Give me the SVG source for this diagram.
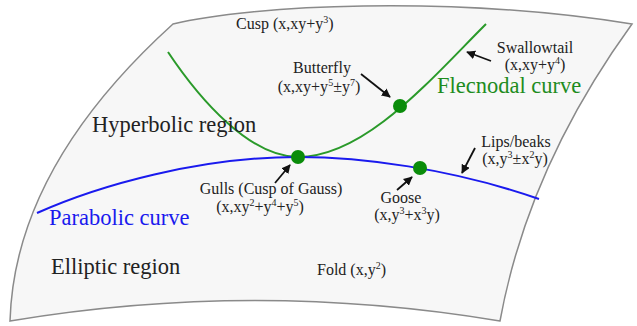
<svg xmlns="http://www.w3.org/2000/svg" width="637" height="326" viewBox="0 0 637 326" font-family="'Liberation Serif', 'DejaVu Serif', serif">
<defs>
<marker id="ah" viewBox="0 0 10 10" refX="9" refY="5" markerWidth="5" markerHeight="5" orient="auto" markerUnits="strokeWidth">
<path d="M0,0 L10,5 L0,10 z" fill="#111"/>
</marker>
<style>
text{fill:#222}
.s{font-size:16px}
.b{font-size:22.5px}
.m{text-anchor:middle}
.sup{font-size:10px}
.arr{stroke:#111;stroke-width:1.8;fill:none;marker-end:url(#ah)}
.dot{fill:#0a8c0a}
</style>
</defs>
<rect width="637" height="326" fill="#fff"/>
<g id="surface">
<path d="M173,24 C250,5 450,-5 632,24 Q528,167.5 500,321 Q255,280 10,321 Q14.5,167.5 173,24 Z" fill="#f7f7f7" stroke="#8a8a8a" stroke-width="1.5"/>
</g>
<g id="curves">
<path id="flecnodal" d="M168,52 C200,100 250,157 298,157 C365,157 430,80 486,24" fill="none" stroke="#2a9a2a" stroke-width="2"/>
<path id="parabolic" d="M37,213 C100,185 200,157 298,157 C360,157 450,168 539,199" fill="none" stroke="#1a1aee" stroke-width="2"/>
</g>
<g id="connectors">
<line class="arr" x1="361" y1="74" x2="390" y2="97"/>
<line class="arr" x1="491" y1="61" x2="467" y2="52"/>
<line class="arr" x1="475" y1="148" x2="462" y2="173"/>
<line class="arr" x1="275" y1="183" x2="290" y2="165"/>
<line class="arr" x1="397" y1="190" x2="412" y2="177"/>
</g>
<g id="butterfly">
<circle class="dot" cx="400" cy="106" r="7"/>
<text class="s m" x="322" y="73">Butterfly</text>
<text class="s m" x="319" y="92">(x,xy+y<tspan class="sup" dy="-6">5</tspan><tspan dy="6">±y</tspan><tspan class="sup" dy="-6">7</tspan><tspan dy="6">)</tspan></text>
</g>
<g id="gulls">
<circle class="dot" cx="298" cy="157" r="7"/>
<text class="s m" x="271" y="194">Gulls (Cusp of Gauss)</text>
<text class="s m" x="260" y="212">(x,xy<tspan class="sup" dy="-6">2</tspan><tspan dy="6">+y</tspan><tspan class="sup" dy="-6">4</tspan><tspan dy="6">+y</tspan><tspan class="sup" dy="-6">5</tspan><tspan dy="6">)</tspan></text>
</g>
<g id="goose">
<circle class="dot" cx="420" cy="168" r="7"/>
<text class="s m" x="401" y="203">Goose</text>
<text class="s m" x="407" y="220">(x,y<tspan class="sup" dy="-6">3</tspan><tspan dy="6">+x</tspan><tspan class="sup" dy="-6">3</tspan><tspan dy="6">y)</tspan></text>
</g>
<g id="swallowtail">
<text class="s m" x="535" y="53">Swallowtail</text>
<text class="s m" x="535" y="70">(x,xy+y<tspan class="sup" dy="-6">4</tspan><tspan dy="6">)</tspan></text>
</g>
<g id="lips">
<text class="s m" x="516" y="147">Lips/beaks</text>
<text class="s m" x="515" y="164">(x,y<tspan class="sup" dy="-6">3</tspan><tspan dy="6">±x</tspan><tspan class="sup" dy="-6">2</tspan><tspan dy="6">y)</tspan></text>
</g>
<g id="cusp">
<text class="s" x="236" y="29">Cusp (x,xy+y<tspan class="sup" dy="-6">3</tspan><tspan dy="6">)</tspan></text>
</g>
<g id="fold">
<text class="s" x="317" y="275">Fold (x,y<tspan class="sup" dy="-6">2</tspan><tspan dy="6">)</tspan></text>
</g>
<g id="labels">
<text class="b" x="92" y="132">Hyperbolic region</text>
<text class="b" x="437" y="93" style="fill:#1e8c1e">Flecnodal curve</text>
<text class="b" x="49" y="225" style="fill:#1a1aee">Parabolic curve</text>
<text class="b" x="51" y="274">Elliptic region</text>
</g>
</svg>
